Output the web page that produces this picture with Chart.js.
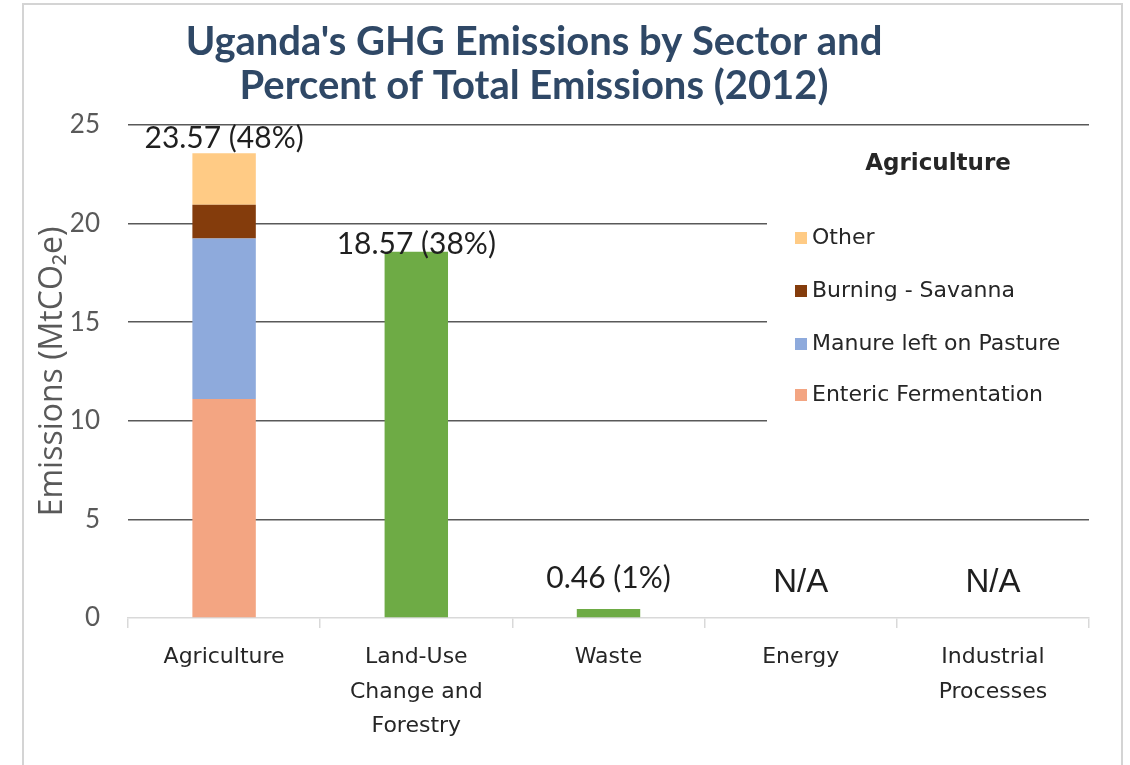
<!DOCTYPE html>
<html>
<head>
<meta charset="utf-8">
<script src="https://cdn.jsdelivr.net/npm/chart.js@4/dist/chart.umd.min.js"></script>
<style>
  html, body { margin: 0; padding: 0; background: #ffffff; }
  #wrap { width: 1130px; height: 765px; position: relative; }
</style>
</head>
<body>
<div id="wrap"><canvas id="c" width="1130" height="765"></canvas></div>
<script>
// ---- Data ----
const categories = ['Agriculture', ['Land-Use', 'Change and', 'Forestry'], 'Waste', 'Energy', ['Industrial', 'Processes']];
const entericFermentation = [11.1, null, null, null, null];
const manureOnPasture     = [8.15, null, null, null, null];
const burningSavanna      = [1.7,  null, null, null, null];
const otherAgriculture    = [2.62, null, null, null, null];
const sectorTotals        = [null, 18.57, 0.46, null, null];
const percentOfTotal      = [48, 38, 1, null, null];
const yTicks              = [0, 5, 10, 15, 20, 25];
const titleLines          = ["Uganda's GHG Emissions by Sector and", "Percent of Total Emissions (2012)"];
const legendTitle         = 'Agriculture';

// ---- Plugins ----
const framePlugin = {
  id: 'frame',
  beforeDraw(chart) {
    const ctx = chart.ctx;
    ctx.save();
    ctx.fillStyle = '#ffffff';
    ctx.fillRect(0, 0, chart.width, chart.height);
    ctx.strokeStyle = '#d4d4d4';
    ctx.lineWidth = 2;
    ctx.strokeRect(23, 4, 1099, 800);
    // Title
    ctx.fillStyle = '#2f4866';
    ctx.font = 'bold 40px Lato';
    ctx.textAlign = 'center';
    ctx.textBaseline = 'middle';
    ctx.fillText(titleLines[0], 534, 42);
    ctx.fillText(titleLines[1], 534, 86);
    ctx.restore();
  }
};

const legendPlugin = {
  id: 'agriLegend',
  beforeDatasetsDraw(chart) {
    const ctx = chart.ctx;
    const area = chart.chartArea;
    ctx.save();
    ctx.fillStyle = '#ffffff';
    ctx.fillRect(767, 140, area.right - 767 + 2, 290);
    ctx.fillStyle = '#262626';
    ctx.font = 'bold 23px "DejaVu Sans"';
    ctx.textAlign = 'center';
    ctx.textBaseline = 'middle';
    ctx.fillText(legendTitle, 938, 164);
    const items = chart.data.datasets.filter(d => d.group === 'agri').slice().reverse();
    const ys = [238, 291, 344, 395];
    ctx.font = '22px "DejaVu Sans"';
    ctx.textAlign = 'left';
    items.forEach((d, i) => {
      ctx.fillStyle = d.backgroundColor;
      ctx.fillRect(795, ys[i] - 6, 12, 12);
      ctx.fillStyle = '#262626';
      ctx.fillText(d.label, 812, ys[i]);
    });
    ctx.restore();
  }
};

const valueLabelPlugin = {
  id: 'valueLabels',
  afterDatasetsDraw(chart) {
    const ctx = chart.ctx;
    const xs = chart.scales.x, ys = chart.scales.y;
    const offsets = [15, 7, 31, 35, 35];
    ctx.save();
    ctx.textAlign = 'center';
    ctx.textBaseline = 'middle';
    ctx.fillStyle = '#1f1f1f';
    categories.forEach((c, i) => {
      let total = 0, any = false;
      chart.data.datasets.forEach(d => {
        const v = d.data[i];
        if (v !== null && v !== undefined) { total += v; any = true; }
      });
      const x = xs.getPixelForValue(i);
      const y = ys.getPixelForValue(any ? total : 0) - offsets[i];
      if (any) {
        ctx.font = '30px Lato';
        ctx.fillText(total.toFixed(2) + ' (' + percentOfTotal[i] + '%)', x, y);
      } else {
        ctx.font = '33px "Liberation Sans"';
        ctx.fillText('N/A', x, y);
      }
    });
    ctx.restore();
  }
};

const common = { stack: 'all', barPercentage: 0.33, categoryPercentage: 1.0, borderWidth: 0 };

new Chart(document.getElementById('c'), {
  type: 'bar',
  data: {
    labels: categories,
    datasets: [
      Object.assign({ label: 'Enteric Fermentation', group: 'agri', data: entericFermentation, backgroundColor: '#f3a582' }, common),
      Object.assign({ label: 'Manure left on Pasture', group: 'agri', data: manureOnPasture, backgroundColor: '#8eaadc' }, common),
      Object.assign({ label: 'Burning - Savanna', group: 'agri', data: burningSavanna, backgroundColor: '#843c0c' }, common),
      Object.assign({ label: 'Other', group: 'agri', data: otherAgriculture, backgroundColor: '#ffcb85' }, common),
      Object.assign({ label: 'Sector total', group: 'sector', data: sectorTotals, backgroundColor: '#6eab45' }, common)
    ]
  },
  options: {
    responsive: false,
    animation: false,
    devicePixelRatio: 1,
    layout: { padding: { top: 125, left: 0, right: 41, bottom: 0 } },
    plugins: {
      legend: { display: false },
      title: { display: false },
      tooltip: { enabled: false }
    },
    scales: {
      x: {
        stacked: true,
        grid: { drawOnChartArea: false, drawTicks: true, tickLength: 10, color: '#d9d9d9', offset: true, lineWidth: 1.5 },
        border: { display: true, color: '#d9d9d9', width: 1.5 },
        ticks: { color: '#262626', font: { family: 'DejaVu Sans', size: 22, lineHeight: 1.57 }, padding: 12, maxRotation: 0, autoSkip: false },
        afterFit(scale) { scale.height = 147; }
      },
      y: {
        stacked: true,
        min: 0,
        max: 25,
        afterBuildTicks(scale) { scale.ticks = yTicks.map(v => ({ value: v })); },
        grid: {
          drawTicks: false,
          lineWidth: 1.6,
          color: (ctx) => (ctx.tick && ctx.tick.value === 0) ? 'rgba(0,0,0,0)' : '#595959'
        },
        border: { display: false },
        ticks: { color: '#595959', font: { family: 'Lato', size: 26 }, padding: 28 },
        title: { display: true, text: 'Emissions (MtCO\u2082e)', color: '#595959', font: { family: 'Open Sans', size: 32 }, padding: { top: 34, bottom: 0 } },
        afterFit(scale) { scale.width = 128; }
      }
    }
  },
  plugins: [framePlugin, legendPlugin, valueLabelPlugin]
});
</script>
</body>
</html>
